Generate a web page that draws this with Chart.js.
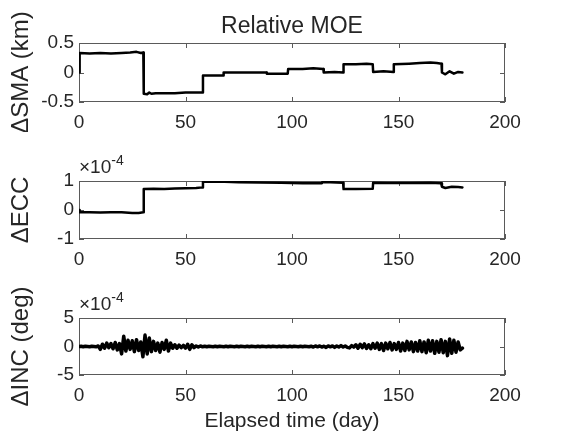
<!DOCTYPE html>
<html>
<head>
<meta charset="utf-8">
<title>Relative MOE</title>
<script src="https://cdn.jsdelivr.net/npm/chart.js@4.4.1/dist/chart.umd.min.js"></script>
<style>
  body { margin: 0; background: #fff; }
  #wrap {
    position: relative;
    width: 575px;
    height: 441px;
    font-family: "Liberation Sans", Arial, sans-serif;
    color: #262626;
  }
  #wrap canvas { position: absolute; left: 0; }
  .exp { position: absolute; left: 79px; font-size: 19px; line-height: 19px; }
  .exp sup { font-size: 14px; vertical-align: 8px; line-height: 0; }
</style>
</head>
<body>
<div id="wrap">
  <canvas id="smaChart" width="575" height="132" style="top:0"></canvas>
  <canvas id="eccChart" width="575" height="119" style="top:150px"></canvas>
  <canvas id="incChart" width="575" height="171" style="top:270px"></canvas>
  <div class="exp" style="top:157px">&times;10<sup>-4</sup></div>
  <div class="exp" style="top:294px">&times;10<sup>-4</sup></div>
</div>

<script>
// ==========================
// DONNÉES
// ==========================
const xTicks = [0, 50, 100, 150, 200];

// ΔSMA (km)
const smaDays = [
  0, 0.3, 5, 10, 15, 20, 24, 27, 29, 30.2,
  30.4, 32, 33, 34, 36, 40, 45, 50, 55, 58,
  58.2, 63, 67.7, 67.9, 75, 80, 88, 88.2, 95, 98,
  98.2, 105, 110, 114.7, 114.9, 120, 124, 124.2, 130, 135,
  137.9, 138.1, 143, 147.6, 147.8, 155, 160, 165, 168, 170.2,
  170.4, 172, 174, 176, 178, 180,
];
const smaValues = [
  0.0, 0.33, 0.32, 0.33, 0.32, 0.33, 0.34, 0.35, 0.33, 0.34,
  -0.36, -0.37, -0.34, -0.36, -0.35, -0.35, -0.35, -0.34, -0.34, -0.34,
  -0.05, -0.05, -0.05, 0.0, 0.0, 0.0, 0.0, -0.02, -0.02, -0.02,
  0.06, 0.06, 0.07, 0.06, 0.0, 0.01, 0.0, 0.14, 0.14, 0.15,
  0.14, 0.01, 0.02, 0.01, 0.14, 0.15, 0.16, 0.17, 0.16, 0.15,
  0.0, -0.03, 0.02, -0.02, 0.01, 0.0,
];

// ΔECC (x 1e-4)
const eccDays = [
  0, 0.3, 5, 10, 15, 20, 25, 28, 30.2, 30.4,
  35, 40, 45, 50, 55, 58, 58.2, 65, 75, 85,
  95, 105, 114, 114.2, 118, 124, 124.2, 130, 137.9, 138.1,
  145, 155, 165, 170, 170.4, 172, 175, 178, 180,
];
const eccValues = [
  0.0, -0.08, -0.08, -0.09, -0.08, -0.08, -0.1, -0.1, -0.08, 0.72,
  0.73, 0.72, 0.74, 0.75, 0.76, 0.78, 0.97, 0.98, 0.96, 0.95,
  0.94, 0.92, 0.92, 0.96, 0.96, 0.94, 0.72, 0.72, 0.73, 0.94,
  0.93, 0.93, 0.94, 0.92, 0.8, 0.76, 0.8, 0.79, 0.78,
];

// ΔINC (deg, x 1e-4), un point par jour de 0 à 180
const incValues = [
  0, 0.05, -0.05, 0.05, 0, -0.05, 0.05, 0, -0.05, 0.1,
  -0.5, 0.4, -0.3, 0.6, -0.2, 0.5, -0.4, 0.7, -0.6, 0.5,
  -1.3, 1.8, -0.8, 1.1, -0.5, 1.0, -0.9, 1.2, -0.7, 0.8,
  -1.8, 2.0, -1.3, 1.5, -0.9, 0.9, -0.7, 0.6, -1.0, 0.7,
  -0.5, 1.1, -0.8, 0.6, -0.3, 0.3, -0.3, 0.25, -0.2, 0.2,
  -0.3, 0.4, -0.5, 0.3, -0.2, 0.1, -0.1, 0.1, -0.05, 0.05,
  -0.05, 0.05, 0, -0.05, 0.05, -0.05, 0.05, 0, -0.05, 0.05,
  -0.05, 0.05, 0, -0.05, 0.05, -0.05, 0.05, 0, -0.05, 0.05,
  -0.05, 0.05, 0, -0.05, 0.05, -0.05, 0.05, 0, -0.05, 0.05,
  -0.05, 0.05, 0, -0.05, 0.05, -0.05, 0.05, 0, -0.05, 0.05,
  -0.05, 0.05, 0, -0.05, 0.05, -0.05, 0.05, 0, -0.05, 0.05,
  -0.1, 0.1, -0.05, 0.1, -0.1, 0.05, -0.15, 0.1, -0.05, 0.1,
  -0.15, 0.1, -0.1, 0.15, -0.1, 0.1, -0.15, -0.25, 0.15, -0.1,
  0.3, -0.3, 0.4, -0.2, 0.45, -0.35, 0.3, -0.4, 0.5, -0.3,
  0.6, -0.5, 0.5, -0.7, 0.6, -0.4, 0.7, -0.6, 0.5, -0.5,
  0.7, -0.8, 0.6, -0.7, 0.9, -0.6, 0.8, -0.9, 0.7, -0.8,
  1.0, -0.9, 0.8, -1.1, 1.1, -0.8, 1.0, -1.2, 0.9, -1.0,
  1.2, -1.1, 0.9, -1.6, 1.3, -1.2, 1.1, -1.0, 0.8, -0.6,
  -0.3,
];

/* =======================================================
   STYLE COMMUN
======================================================= */
const FONT = "'Liberation Sans', Arial, sans-serif";
const TEXT_COLOR = "#262626";
const AXIS_COLOR = "#5a5a5a";

function toPoints(xs, ys) {
  return ys.map((y, i) => ({ x: xs[i], y }));
}

// cadre + graduations vers l'intérieur (façon MATLAB)
const boxPlugin = {
  id: "matlabBox",
  beforeDatasetsDraw(chart) {
    const { ctx, chartArea: a, scales } = chart;
    ctx.save();
    ctx.strokeStyle = AXIS_COLOR;
    ctx.lineWidth = 1;
    ctx.strokeRect(a.left + 0.5, a.top + 0.5, a.width - 1, a.height - 1);

    ctx.beginPath();
    scales.x.ticks.forEach((t) => {
      const px = Math.round(scales.x.getPixelForValue(t.value)) + 0.5;
      ctx.moveTo(px, a.bottom);
      ctx.lineTo(px, a.bottom - 5);
      ctx.moveTo(px, a.top);
      ctx.lineTo(px, a.top + 5);
    });
    scales.y.ticks.forEach((t) => {
      const py = Math.round(scales.y.getPixelForValue(t.value)) + 0.5;
      ctx.moveTo(a.left, py);
      ctx.lineTo(a.left + 5, py);
      ctx.moveTo(a.right, py);
      ctx.lineTo(a.right - 5, py);
    });
    ctx.stroke();
    ctx.restore();
  },
};

/* =======================================================
   CRÉATION D'UN SOUS-GRAPHE
======================================================= */
function makeSubplot(canvasId, opts) {
  const ctx = document.getElementById(canvasId).getContext("2d");
  return new Chart(ctx, {
    type: "line",
    data: {
      datasets: [
        {
          data: opts.points,
          borderColor: "#000",
          borderWidth: opts.lineWidth || 2.5,
          borderJoinStyle: "round",
          borderCapStyle: "round",
          pointRadius: 0,
          tension: 0,
          fill: false,
        },
      ],
    },
    options: {
      responsive: false,
      animation: false,
      events: [],
      layout: {
        padding: { top: opts.padTop, right: 70, bottom: 0, left: 0 },
      },
      plugins: {
        legend: { display: false },
        tooltip: { enabled: false },
        title: opts.title
          ? {
              display: true,
              fullSize: false, // centré sur la zone de tracé
              text: opts.title,
              color: TEXT_COLOR,
              font: { family: FONT, size: 23, weight: "normal" },
              padding: { top: 13, bottom: 2.4 },
            }
          : { display: false },
      },
      scales: {
        x: {
          type: "linear",
          min: 0,
          max: 200,
          afterBuildTicks: (s) => {
            s.ticks = xTicks.map((v) => ({ value: v }));
          },
          afterFit: (s) => {
            s.height = opts.xHeight;
          },
          grid: { display: false, drawTicks: false },
          border: { display: false },
          ticks: {
            color: TEXT_COLOR,
            font: { family: FONT, size: 19 },
            padding: 9,
            maxRotation: 0,
            autoSkip: false,
          },
          title: opts.xTitle
            ? {
                display: true,
                text: opts.xTitle,
                color: TEXT_COLOR,
                font: { family: FONT, size: 21 },
                padding: { top: 0, bottom: 7 },
              }
            : { display: false },
        },
        y: {
          type: "linear",
          min: opts.yTicks[0],
          max: opts.yTicks[opts.yTicks.length - 1],
          afterBuildTicks: (s) => {
            s.ticks = opts.yTicks.map((v) => ({ value: v }));
          },
          afterFit: (s) => {
            s.width = 79;
          },
          grid: { display: false, drawTicks: false },
          border: { display: false },
          ticks: {
            color: TEXT_COLOR,
            font: { family: FONT, size: 19 },
            padding: 5,
            autoSkip: false,
            callback: (v) => String(v),
          },
          title: {
            display: true,
            text: opts.yTitle,
            color: TEXT_COLOR,
            font: { family: FONT, size: 24 },
            padding: { top: 7, bottom: 0 },
          },
        },
      },
    },
    plugins: [boxPlugin],
  });
}

/* =======================================================
   INIT
======================================================= */
makeSubplot("smaChart", {
  points: toPoints(smaDays, smaValues),
  yTicks: [-0.5, 0, 0.5],
  yTitle: "ΔSMA (km)",
  title: "Relative MOE",
  padTop: 0,
  xHeight: 30,
});

makeSubplot("eccChart", {
  points: toPoints(eccDays, eccValues),
  yTicks: [-1, 0, 1],
  yTitle: "ΔECC",
  padTop: 31,
  xHeight: 30,
});

makeSubplot("incChart", {
  points: incValues.map((v, day) => ({ x: day, y: v })),
  yTicks: [-5, 0, 5],
  yTitle: "ΔINC (deg)",
  padTop: 48,
  xHeight: 66,
  xTitle: "Elapsed time (day)",
  lineWidth: 3.5,
});
</script>
</body>
</html>
